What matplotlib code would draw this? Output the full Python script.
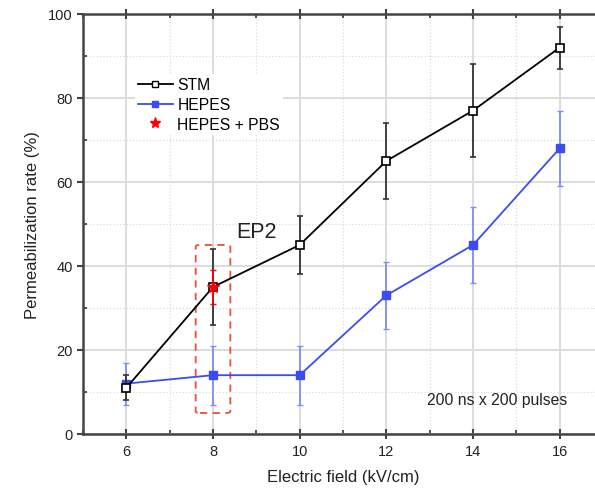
import numpy as np
import matplotlib.pyplot as plt
from matplotlib.patches import FancyBboxPatch
from matplotlib.lines import Line2D
from matplotlib.ticker import MultipleLocator

plt.rcParams['font.family'] = ['Liberation Sans', 'DejaVu Sans']

field = [6, 8, 10, 12, 14, 16]
stm = [11, 35, 45, 65, 77, 92]
stm_err = [3, 9, 7, 9, 11, 5]
hepes = [12, 14, 14, 33, 45, 68]
hepes_err = [5, 7, 7, 8, 9, 9]
pbs_x = [8]
pbs = [35]
pbs_err = [4]

blue = '#3b4cf0'

fig = plt.figure(figsize=(5.95, 5.02), dpi=100)
ax = fig.add_axes([0.1395, 0.1335, 0.874, 0.8367])

ax.errorbar(field, stm, yerr=stm_err, color='black', lw=1.3, marker='s', ms=6,
            mfc='white', mec='black', mew=1.2, ecolor='#333333', elinewidth=1.3,
            capsize=2.5, zorder=4)
ax.errorbar(field, hepes, yerr=hepes_err, color=blue, lw=1.3, marker='s', ms=6,
            mfc=blue, mec=blue, ecolor='#7f8ef5', elinewidth=1.3,
            capsize=2.5, zorder=3)
ax.errorbar(pbs_x, pbs, yerr=pbs_err, color='red', ls='none', marker='*', ms=9,
            ecolor='red', elinewidth=1.3, capsize=2.5, zorder=5)

box = FancyBboxPatch((7.6, 5), 0.8, 40, boxstyle='round,pad=0,rounding_size=0.1',
                     fill=False, ec='#e8503a', ls=(0, (4, 3)), lw=1.3, zorder=2,
                     mutation_aspect=4)
ax.add_patch(box)

ax.text(9.0, 48.3, 'EP2', fontsize=15.5, ha='center', va='center', color='#222222')
ax.text(16.17, 8.3, '200 ns x 200 pulses', fontsize=11.3, ha='right', va='center',
        color='#222222')

ax.set_xlim(5, 17)
ax.set_ylim(0, 100)
ax.set_xticks(field)
ax.xaxis.set_minor_locator(MultipleLocator(1))
ax.yaxis.set_major_locator(MultipleLocator(20))
ax.yaxis.set_minor_locator(MultipleLocator(10))

ax.grid(which='major', color='#dcdcdc', lw=1.4)
ax.grid(which='minor', color='#dcdcdc', lw=0.9, ls=':')
ax.set_axisbelow(True)

for s in ax.spines.values():
    s.set_color('#444444')
    s.set_linewidth(1.8)
ax.tick_params(which='major', direction='inout', length=7, width=1.5,
               color='#444444', labelsize=10.5, top=True, labelcolor='#222222')
ax.tick_params(which='minor', direction='in', length=3, width=1.3,
               color='#444444', top=True)
ax.tick_params(axis='y', which='major', direction='out', length=4)

ax.set_xlabel('Electric field (kV/cm)', fontsize=12, labelpad=8, color='#222222')
ax.set_ylabel('Permeabilization rate (%)', fontsize=12, labelpad=6, color='#222222')

handles = [
    Line2D([], [], color='black', lw=1.3, marker='s', ms=5, mfc='white', mec='black'),
    Line2D([], [], color=blue, lw=1.3, marker='s', ms=5, mfc=blue, mec=blue),
    Line2D([], [], color='red', ls='none', marker='*', ms=8),
]
leg = ax.legend(handles, ['STM', 'HEPES', 'HEPES + PBS'], loc='upper left',
                bbox_to_anchor=(0.085, 0.875), frameon=True,
                fontsize=11.3, handlelength=2.2, handletextpad=0.3,
                labelspacing=0.3, borderpad=0.2)
leg.get_frame().set_edgecolor('none')
leg.get_frame().set_facecolor('white')
leg.get_frame().set_alpha(1)

fig.savefig('out.png', dpi=100)
